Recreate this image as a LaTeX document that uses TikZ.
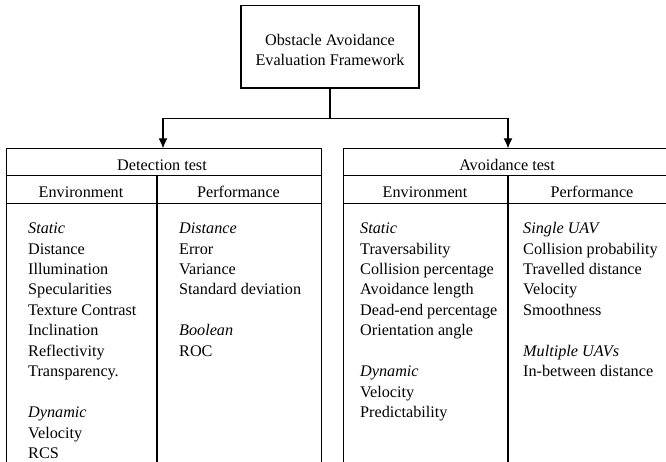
\documentclass[tikz,border=0pt]{standalone}
\usepackage{fontspec}
\setmainfont{Liberation Serif}
\usetikzlibrary{arrows.meta}
\tikzset{
  frame/.style={line width=1.3pt, line join=miter},
  conn/.style={line width=1.3pt, -{Latex[length=10pt,width=9pt]}},
  txt/.style={inner sep=0pt, anchor=base west, font=\fontsize{16.2}{20.4}\selectfont},
  hdr/.style={inner sep=0pt, anchor=base, font=\fontsize{16.2}{20.4}\selectfont},
}
\begin{document}
\begin{tikzpicture}[x=1pt,y=-1pt]
\useasboundingbox (0,0) rectangle (666,461);
% top box
\node[frame, draw, minimum width=178pt, minimum height=82.5pt, inner sep=0pt] (top) at (330,46.75) {};
\node[inner sep=0pt, align=center, font=\fontsize{16.2}{20.4}\selectfont] (toptext) at (330,50) {Obstacle Avoidance\\Evaluation Framework};
% connectors
\coordinate (j) at (330,118.5);
\coordinate (dt) at (163,148.3);
\coordinate (at) at (508,148.3);
\draw[line width=1.3pt] (top.south) -- (j);
\draw[conn] (j) -| (dt);
\draw[conn] (j) -| (at);
% left frame
\draw[frame] (6.5,470) -- (6.5,148.3) -- (321.7,148.3) -- (321.7,470);
\draw[frame] (6.5,175.7) -- (321.7,175.7);
\draw[frame] (6.5,203.3) -- (321.7,203.3);
\draw[frame] (157,175.7) -- (157,470);
% right frame
\draw[frame] (343.3,470) -- (343.3,148.3) -- (672,148.3) -- (672,470);
\draw[frame] (343.3,175.7) -- (672,175.7);
\draw[frame] (343.3,203.3) -- (672,203.3);
\draw[frame] (508,175.7) -- (508,470);
% headers
\node[hdr] (dtest) at (162,170.3) {Detection test};
\node[hdr] (denv) at (81,197.5) {Environment};
\node[hdr] (dperf) at (238.5,197.5) {Performance};
\node[hdr] (atest) at (507,170.3) {Avoidance test};
\node[hdr] (aenv) at (425,197.5) {Environment};
\node[hdr] (aperf) at (592,197.5) {Performance};
% lists
\foreach \t/\i in {\textit{Static}/0, Distance/1, Illumination/2, Specularities/3, Texture Contrast/4, Inclination/5, Reflectivity/6, Transparency./7, \textit{Dynamic}/9, Velocity/10, RCS/11}
  \node[txt] (le\i) at (28,233.6+20.45*\i) {\t};
\foreach \t/\i in {\textit{Distance}/0, Error/1, Variance/2, Standard deviation/3, \textit{Boolean}/5, ROC/6}
  \node[txt] (lp\i) at (179,233.6+20.45*\i) {\t};
\foreach \t/\i in {\textit{Static}/0, Traversability/1, Collision percentage/2, Avoidance length/3, Dead-end percentage/4, Orientation angle/5, \textit{Dynamic}/7, Velocity/8, Predictability/9}
  \node[txt] (re\i) at (360,233.6+20.45*\i) {\t};
\foreach \t/\i in {\textit{Single UAV}/0, Collision probability/1, Travelled distance/2, Velocity/3, Smoothness/4, \textit{Multiple UAVs}/6, In-between distance/7}
  \node[txt] (rp\i) at (523,233.6+20.45*\i) {\t};
\end{tikzpicture}
\end{document}
